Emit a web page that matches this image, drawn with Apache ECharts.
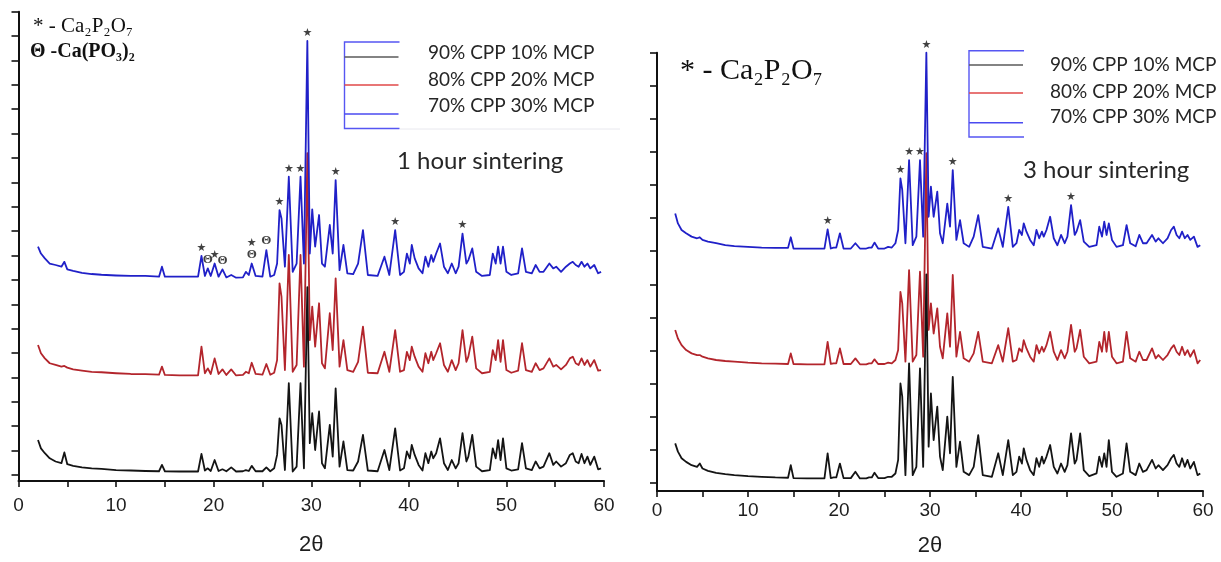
<!DOCTYPE html>
<html>
<head>
<meta charset="utf-8">
<title>XRD patterns of CPP/MCP mixtures</title>
<script src="https://cdn.jsdelivr.net/npm/echarts@6.0.0/dist/echarts.min.js"></script>
<style>
  html, body { margin: 0; padding: 0; background: #ffffff; }
  #main { width: 1221px; height: 562px; }
</style>
</head>
<body>
<div id="main"></div>
<script>
// 2θ positions shared by every diffraction trace (degrees)
const theta = [
  2.0, 2.3, 2.7, 3.2, 3.8, 4.4, 4.7, 5.0, 5.6, 6.5,
  7.5, 8.5, 10, 11.5, 13, 14.4, 14.7, 15.0, 16.5, 18.4,
  18.75, 19.1, 19.4, 19.7, 20.1, 20.5, 20.9, 21.3, 21.8, 22.3,
  23.0, 23.3, 23.6, 23.9, 24.3, 25.0, 25.4, 25.8, 26.2, 26.5,
  26.75, 26.95, 27.3, 27.7, 28.1, 28.5, 28.9, 29.25, 29.6, 29.85,
  30.1, 30.4, 30.8, 31.1, 31.4, 31.9, 32.2, 32.5, 32.9, 33.3,
  33.7, 34.3, 34.8, 35.3, 35.8, 36.8, 37.5, 38.0, 38.6, 39.1,
  39.5, 39.8, 40.1, 40.3, 40.6, 41.0, 41.4, 41.7, 42.0, 42.3,
  42.5, 42.8, 43.2, 43.6, 44.0, 44.4, 44.8, 45.1, 45.5, 45.9,
  46.1, 46.5, 46.9, 47.5, 48.3, 48.6, 48.9, 49.15, 49.4, 49.65,
  50.0, 50.5, 51.2, 51.6, 52.0, 52.6, 53.0, 53.4, 53.8, 54.4,
  54.8, 55.1, 55.6, 56.1, 56.5, 56.8, 57.1, 57.4, 57.7, 58.0,
  58.3, 58.6, 59.0, 59.4, 59.7
];

// 1 hour sintering: stacked intensities (a.u.)
const cpp90_1h = [
  1.43, 1.09, 0.89, 0.68, 0.55, 0.48, 0.92, 0.44, 0.37, 0.31,
  0.27, 0.25, 0.20, 0.18, 0.16, 0.15, 0.41, 0.15, 0.14, 0.14,
  0.86, 0.18, 0.27, 0.16, 0.61, 0.16, 0.23, 0.15, 0.31, 0.14,
  0.15, 0.20, 0.16, 0.37, 0.15, 0.15, 0.31, 0.15, 0.27, 0.82,
  2.32, 2.05, 0.20, 3.76, 0.14, 0.34, 3.76, 0.27, 7.70, 1.30,
  2.53, 1.02, 2.60, 0.48, 0.27, 2.05, 0.75, 3.55, 0.34, 1.37,
  0.20, 0.18, 0.55, 1.64, 0.18, 0.15, 1.02, 0.20, 1.91, 0.18,
  0.27, 0.96, 0.68, 1.23, 0.82, 0.41, 0.18, 0.89, 0.48, 0.96,
  0.68, 0.89, 1.50, 0.48, 0.20, 0.61, 0.27, 0.48, 1.71, 0.55,
  0.75, 1.64, 0.34, 0.15, 0.20, 1.09, 0.68, 1.43, 0.61, 1.50,
  0.27, 0.18, 0.23, 1.30, 0.27, 0.20, 0.55, 0.27, 0.34, 0.89,
  0.41, 0.55, 0.34, 0.48, 0.82, 0.89, 0.55, 0.48, 0.86, 0.48,
  0.75, 0.41, 0.75, 0.23, 0.27
];
const cpp80_1h = [
  5.33, 4.99, 4.78, 4.58, 4.51, 4.44, 4.47, 4.40, 4.33, 4.28,
  4.23, 4.21, 4.17, 4.14, 4.13, 4.11, 4.44, 4.10, 4.08, 4.08,
  5.26, 4.17, 4.37, 4.14, 4.78, 4.14, 4.33, 4.10, 4.33, 4.08,
  4.10, 4.23, 4.17, 4.60, 4.14, 4.11, 4.55, 4.11, 4.19, 4.71,
  7.86, 7.31, 4.30, 9.02, 4.23, 4.51, 9.02, 4.44, 13.2, 5.53,
  6.90, 5.26, 7.04, 4.58, 4.37, 6.63, 5.12, 8.06, 4.44, 5.53,
  4.30, 4.23, 4.64, 6.08, 4.19, 4.17, 5.05, 4.23, 5.94, 4.23,
  4.30, 5.05, 4.71, 5.26, 4.85, 4.44, 4.23, 4.99, 4.58, 5.05,
  4.71, 4.99, 5.40, 4.51, 4.23, 4.71, 4.30, 4.58, 5.94, 4.64,
  4.85, 5.67, 4.37, 4.17, 4.23, 5.12, 4.71, 5.53, 4.64, 5.53,
  4.30, 4.19, 4.28, 5.40, 4.30, 4.23, 4.58, 4.30, 4.37, 4.78,
  4.44, 4.51, 4.33, 4.51, 4.78, 4.85, 4.58, 4.51, 4.78, 4.51,
  4.71, 4.44, 4.71, 4.28, 4.30
];
const cpp70_1h = [
  9.36, 9.08, 8.88, 8.67, 8.61, 8.54, 8.74, 8.43, 8.37, 8.29,
  8.24, 8.21, 8.18, 8.16, 8.16, 8.13, 8.54, 8.13, 8.13, 8.13,
  8.98, 8.16, 8.47, 8.16, 8.67, 8.13, 8.43, 8.10, 8.20, 8.09,
  8.10, 8.33, 8.20, 8.67, 8.16, 8.13, 9.22, 8.13, 8.20, 8.67,
  10.86, 10.52, 8.54, 12.23, 8.33, 8.67, 12.23, 8.67, 17.8, 9.08,
  10.89, 9.36, 10.66, 8.67, 8.54, 10.25, 9.08, 12.09, 8.40, 9.43,
  8.27, 8.24, 8.67, 10.04, 8.20, 8.16, 8.95, 8.20, 10.04, 8.20,
  8.33, 9.08, 8.67, 9.43, 8.88, 8.47, 8.27, 8.95, 8.54, 9.02,
  8.74, 9.08, 9.49, 8.54, 8.27, 8.67, 8.27, 8.54, 9.90, 8.67,
  8.81, 9.29, 8.33, 8.16, 8.20, 9.08, 8.67, 9.36, 8.67, 9.36,
  8.33, 8.20, 8.27, 9.29, 8.33, 8.27, 8.61, 8.33, 8.33, 8.67,
  8.47, 8.54, 8.33, 8.54, 8.67, 8.74, 8.61, 8.54, 8.74, 8.54,
  8.67, 8.47, 8.61, 8.27, 8.33
];

// 3 hour sintering: stacked intensities (a.u.)
const cpp90_3h = [
  1.19, 0.94, 0.74, 0.63, 0.53, 0.48, 0.58, 0.43, 0.36, 0.30,
  0.26, 0.23, 0.20, 0.18, 0.16, 0.15, 0.53, 0.14, 0.13, 0.13,
  0.89, 0.14, 0.16, 0.16, 0.58, 0.14, 0.14, 0.14, 0.33, 0.13,
  0.13, 0.16, 0.16, 0.30, 0.14, 0.14, 0.18, 0.18, 0.28, 0.69,
  3.00, 2.60, 0.23, 3.61, 0.23, 0.48, 3.46, 0.48, 6.30, 1.09,
  2.70, 1.29, 2.30, 0.79, 0.38, 2.00, 0.89, 3.20, 0.48, 1.24,
  0.33, 0.23, 0.48, 1.44, 0.23, 0.18, 0.89, 0.23, 1.29, 0.23,
  0.33, 0.79, 0.58, 1.04, 0.69, 0.38, 0.23, 0.74, 0.48, 0.79,
  0.58, 0.79, 1.14, 0.48, 0.28, 0.58, 0.33, 0.53, 1.49, 0.58,
  0.69, 1.49, 0.38, 0.20, 0.28, 0.79, 0.48, 0.89, 0.48, 1.29,
  0.33, 0.18, 0.28, 1.19, 0.33, 0.23, 0.58, 0.33, 0.38, 0.69,
  0.43, 0.53, 0.38, 0.53, 0.74, 0.84, 0.58, 0.48, 0.74, 0.48,
  0.69, 0.43, 0.63, 0.23, 0.28
];
const cpp80_3h = [
  4.62, 4.36, 4.16, 4.01, 3.91, 3.86, 3.86, 3.81, 3.76, 3.71,
  3.68, 3.66, 3.63, 3.61, 3.60, 3.59, 3.91, 3.59, 3.58, 3.58,
  4.26, 3.59, 3.61, 3.61, 4.06, 3.59, 3.59, 3.59, 3.76, 3.58,
  3.58, 3.61, 3.61, 3.73, 3.59, 3.59, 3.63, 3.61, 3.71, 4.01,
  5.77, 5.42, 3.66, 6.43, 3.66, 3.86, 6.38, 3.81, 9.96, 4.62,
  5.42, 4.51, 5.27, 4.11, 3.76, 5.12, 4.11, 6.28, 3.81, 4.56,
  3.76, 3.66, 3.91, 4.56, 3.66, 3.61, 4.16, 3.66, 4.67, 3.66,
  3.71, 4.06, 3.96, 4.31, 4.06, 3.81, 3.66, 4.16, 3.91, 4.11,
  3.96, 4.16, 4.56, 3.96, 3.71, 4.01, 3.76, 3.96, 4.77, 3.96,
  4.06, 4.62, 3.81, 3.61, 3.66, 4.26, 3.96, 4.56, 3.96, 4.56,
  3.81, 3.61, 3.66, 4.56, 3.76, 3.66, 3.96, 3.71, 3.71, 4.06,
  3.76, 3.86, 3.71, 3.86, 4.06, 4.16, 3.96, 3.86, 4.11, 3.86,
  4.01, 3.81, 4.01, 3.61, 3.71
];
const cpp70_3h = [
  8.14, 7.84, 7.64, 7.54, 7.44, 7.39, 7.42, 7.34, 7.29, 7.24,
  7.18, 7.15, 7.13, 7.11, 7.10, 7.10, 7.42, 7.08, 7.08, 7.08,
  7.66, 7.08, 7.11, 7.11, 7.54, 7.08, 7.08, 7.08, 7.24, 7.08,
  7.08, 7.11, 7.11, 7.26, 7.08, 7.08, 7.13, 7.11, 7.24, 7.64,
  9.20, 8.85, 7.24, 9.75, 7.18, 7.44, 9.75, 7.44, 13.0, 8.04,
  8.95, 8.04, 8.80, 7.54, 7.24, 8.44, 7.74, 9.45, 7.34, 7.94,
  7.24, 7.13, 7.44, 8.09, 7.13, 7.08, 7.69, 7.13, 8.34, 7.13,
  7.24, 7.64, 7.49, 7.84, 7.59, 7.34, 7.18, 7.64, 7.39, 7.59,
  7.44, 7.64, 8.04, 7.39, 7.18, 7.49, 7.24, 7.44, 8.39, 7.49,
  7.59, 7.94, 7.29, 7.13, 7.18, 7.74, 7.44, 7.89, 7.49, 7.84,
  7.34, 7.13, 7.18, 7.79, 7.24, 7.15, 7.49, 7.24, 7.24, 7.49,
  7.29, 7.39, 7.24, 7.39, 7.64, 7.74, 7.49, 7.39, 7.59, 7.39,
  7.49, 7.34, 7.44, 7.13, 7.18
];

// Sample names
const sampleNames = ['90% CPP 10% MCP', '80% CPP 20% MCP', '70% CPP 30% MCP'];

// Phase markers: 2θ of the labelled reflections on the top trace
const pyroPeaks1h = [18.75, 20.1, 23.9, 26.75, 27.7, 28.9, 29.6, 32.5, 38.6, 45.5]; // * Ca2P2O7
const metaPeaks1h = [19.4, 20.9, 23.9, 25.4];                                       // Θ Ca(PO3)2
const pyroPeaks3h = [18.75, 26.75, 27.7, 28.9, 29.6, 32.5, 38.6, 45.5];

// Axis ticks
const xTickStep = 5;
const yTicks1h = [0, 1, 2, 3, 4, 5, 6, 7, 8, 9, 10, 11, 12, 13, 14, 15, 16, 17, 18, 19];
const yTicks3h = [0, 1, 2, 3, 4, 5, 6, 7, 8, 9, 10, 11, 12, 13];

// ---------------------------------------------------------------------------

const SANS = "'Liberation Sans', Arial, sans-serif";
const SERIF = "'Liberation Serif', 'Times New Roman', serif";
const KEY = "Lato, 'Open Sans', sans-serif";

const colors = { black: '#141414', red: '#b3252c', blue: '#2020c8' };
const pairs = vals => theta.map((t, i) => [t, vals[i]]);
const valueAt = (vals, t) => vals[theta.indexOf(t)];

function xAxisFor(gridIndex, labelMargin, gap) {
  return {
    gridIndex, type: 'value', min: 0, max: 60, interval: xTickStep,
    axisLine: { show: true, onZero: false, lineStyle: { color: '#111', width: 2 } },
    axisTick: { show: true, length: 6, lineStyle: { color: '#111', width: 1.6 } },
    axisLabel: {
      formatter: v => (v % 10 === 0 ? String(v) : ''),
      fontFamily: SANS, fontSize: 19, color: '#1e1e1e', margin: labelMargin
    },
    splitLine: { show: false },
    name: '2θ', nameLocation: 'middle', nameGap: gap,
    nameTextStyle: { fontFamily: SANS, fontSize: 22, color: '#1e1e1e' }
  };
}

function yAxisFor(gridIndex, maxV, ticks) {
  return {
    gridIndex, type: 'value', min: -0.25, max: maxV,
    axisLine: { show: true, onZero: false, lineStyle: { color: '#111', width: 2 } },
    axisTick: { show: true, inside: false, length: 7, customValues: ticks, lineStyle: { color: '#111', width: 1.6 } },
    axisLabel: { show: false },
    splitLine: { show: false }
  };
}

function trace(name, vals, color, axis, z) {
  return {
    name, type: 'line', xAxisIndex: axis, yAxisIndex: axis, data: pairs(vals),
    showSymbol: false, symbol: 'none', smooth: false, z, silent: true,
    lineStyle: { color, width: 1.8, join: 'round' }, clip: false
  };
}

function markers(peaks, vals, axis, glyph, style, liftFor) {
  return {
    type: 'scatter', xAxisIndex: axis, yAxisIndex: axis, silent: true, z: 10,
    symbol: 'circle', symbolSize: 1, itemStyle: { color: 'rgba(0,0,0,0)' },
    data: peaks.map(t => ({
      value: [t, valueAt(vals, t)],
      label: { distance: liftFor && liftFor.includes(t) ? 14 : 2 }
    })),
    label: Object.assign({ show: true, position: 'top', formatter: glyph, color: '#111' }, style)
  };
}

const starStyle = { fontFamily: "'DejaVu Sans', sans-serif", fontSize: 11 };
const thetaStyle = { fontFamily: SERIF, fontWeight: 'bold', fontSize: 13 };

function legendBlock(x, yTop, yBlack, yRed, yBlue, yBottom, textX, textYs, tagline, tagX, tagY) {
  const right = x + 55;
  const els = [
    { type: 'polyline', shape: { points: [[right, yTop], [x, yTop], [x, yBottom], [right, yBottom]] },
      style: { stroke: '#5656f2', lineWidth: 1.4, fill: null } },
    { type: 'line', shape: { x1: x, y1: yBlack, x2: right - 1, y2: yBlack }, style: { stroke: '#5a5a5a', lineWidth: 1.4 } },
    { type: 'line', shape: { x1: x, y1: yRed, x2: right - 1, y2: yRed }, style: { stroke: '#e04848', lineWidth: 1.4 } },
    { type: 'line', shape: { x1: x, y1: yBlue, x2: right - 1, y2: yBlue }, style: { stroke: '#4a4af0', lineWidth: 1.4 } }
  ];
  sampleNames.forEach((n, i) => els.push({
    type: 'text', x: textX, y: textYs[i],
    style: { text: n, fontFamily: KEY, fontSize: 19, fill: '#262626', verticalAlign: 'middle', align: 'left' }
  }));
  els.push({
    type: 'text', x: tagX, y: tagY,
    style: { text: tagline, fontFamily: KEY, fontSize: 24, fill: '#262626', verticalAlign: 'middle', align: 'left' }
  });
  return els;
}

const chart = echarts.init(document.getElementById('main'), null, { renderer: 'canvas' });

chart.setOption({
  animation: false,
  backgroundColor: '#ffffff',
  grid: [
    { left: 18.5, top: 11.7, width: 585.5, height: 469.3 },
    { left: 657, top: 52.7, width: 546, height: 438.3 }
  ],
  xAxis: [xAxisFor(0, 15, 53), xAxisFor(1, 10, 44)],
  yAxis: [yAxisFor(0, 19, yTicks1h), yAxisFor(1, 13, yTicks3h)],
  series: [
    trace(sampleNames[1], cpp80_1h, colors.red, 0, 2),
    trace(sampleNames[0], cpp90_1h, colors.black, 0, 3),
    trace(sampleNames[2], cpp70_1h, colors.blue, 0, 4),
    trace(sampleNames[1], cpp80_3h, colors.red, 1, 2),
    trace(sampleNames[0], cpp90_3h, colors.black, 1, 3),
    trace(sampleNames[2], cpp70_3h, colors.blue, 1, 4),
    markers(pyroPeaks1h, cpp70_1h, 0, '★', starStyle, metaPeaks1h),
    markers(metaPeaks1h, cpp70_1h, 0, 'Θ', thetaStyle, null),
    markers(pyroPeaks3h, cpp70_3h, 1, '★', starStyle, null)
  ],
  graphic: [
    // phase keys
    { type: 'text', x: 33, y: 26,
      style: { text: '* - Ca₂P₂O₇', fontFamily: SERIF, fontSize: 21, fill: '#111', verticalAlign: 'middle' } },
    { type: 'text', x: 30, y: 52,
      style: { text: 'Θ -Ca(PO₃)₂', fontFamily: SERIF, fontWeight: 'bold', fontSize: 20, fill: '#111', verticalAlign: 'middle' } },
    { type: 'text', x: 680, y: 71,
      style: { text: '* - Ca₂P₂O₇', fontFamily: SERIF, fontSize: 30, fill: '#111', verticalAlign: 'middle' } },
    // faint frame edge under the 1 h key
    { type: 'line', shape: { x1: 400, y1: 129, x2: 620, y2: 129 }, style: { stroke: '#e8e8ee', lineWidth: 1 } },
    ...legendBlock(344.5, 42, 57, 85, 114, 128.5, 428, [53, 80, 106], '1 hour sintering', 397, 161),
    ...legendBlock(969, 50.7, 65, 93, 122.7, 137, 1050, [65, 92, 117], '3 hour sintering', 1023, 170)
  ]
});
</script>
</body>
</html>
